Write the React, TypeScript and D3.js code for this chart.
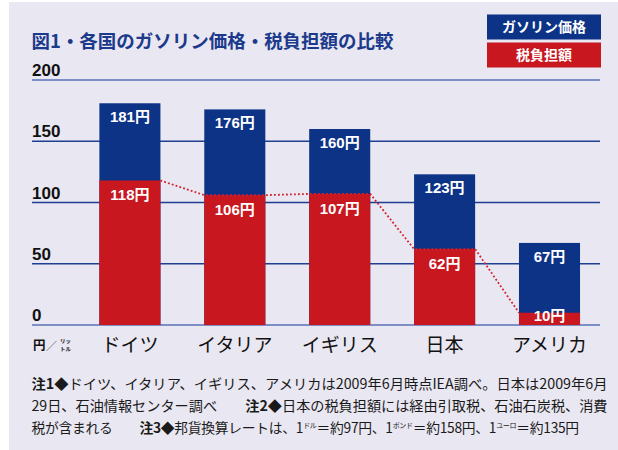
import React from "react";
import * as d3 from "d3";

const countries = ["ドイツ", "イタリア", "イギリス", "日本", "アメリカ"];
const gasolinePrice = [181, 176, 160, 123, 67];
const taxAmount = [118, 106, 107, 62, 10];
const yTicks = [0, 50, 100, 150, 200];
const legendLabels = ["ガソリン価格", "税負担額"];

const BLUE = "#0d3387";
const RED = "#c8171f";
const BG = "#e9e7f1";
const NUM_FONT = "'Liberation Sans', 'Noto Sans CJK JP', sans-serif";
const JP_FONT = "'Noto Sans CJK JP', 'Noto Sans', sans-serif";
const SP = "\u3000";

export default function App() {
  const W = 618;
  const H = 450;
  const n = countries.length;
  const step = 104.9;
  const c0 = 129.9;
  const x = d3
    .scaleBand<string>()
    .domain(countries)
    .range([c0 - step / 2, c0 + (n - 1) * step + step / 2])
    .paddingInner(0.418)
    .paddingOuter(0.209);
  const y = d3.scaleLinear().domain([0, 200]).range([325, 80]);
  const bw = x.bandwidth();

  const linePts: [number, number][] = [];
  countries.forEach((c, i) => {
    const x0 = x(c)!;
    const yt = y(taxAmount[i]);
    if (i > 0) linePts.push([x0, yt]);
    if (i < n - 1) linePts.push([x0 + bw, yt]);
  });
  const dotted = d3.line()(linePts) || "";

  const small = 7;

  return (
    <svg
      width={W}
      height={H}
      style={{ position: "absolute", left: 0, top: 0, display: "block" }}
    >
      <rect x={0} y={0} width={W} height={H} fill="#ffffff" />
      <rect x={9} y={2} width={W - 9} height={H - 2} fill={BG} />

      {/* title */}
      <text
        x={31.5}
        y={48}
        fontFamily={JP_FONT}
        fontWeight={700}
        fontSize={18.5}
        fill="#1b3a8c"
        textLength={362}
        lengthAdjust="spacingAndGlyphs"
      >
        図1・各国のガソリン価格・税負担額の比較
      </text>

      {/* legend */}
      {legendLabels.map((l, i) => (
        <g key={l}>
          <rect
            x={487}
            y={14.5 + i * 28}
            width={114}
            height={25}
            fill={i === 0 ? BLUE : RED}
          />
          <text
            x={544}
            y={32 + i * 28}
            textAnchor="middle"
            fontFamily={JP_FONT}
            fontWeight={700}
            fontSize={14}
            fill="#ffffff"
          >
            {l}
          </text>
        </g>
      ))}

      {/* gridlines & tick labels */}
      {yTicks.map((t) => (
        <g key={t}>
          <line
            x1={32}
            x2={600}
            y1={y(t)}
            y2={y(t)}
            stroke={t === 0 || t === 200 ? "#5a72b8" : "#1f3f92"}
            strokeWidth={1.5}
          />
          <text
            x={32}
            y={y(t) - 4}
            fontFamily={NUM_FONT}
            fontWeight={700}
            fontSize={17}
            fill="#111"
          >
            {t}
          </text>
        </g>
      ))}

      {/* bars */}
      {countries.map((c, i) => {
        const x0 = x(c)!;
        const yb = y(gasolinePrice[i]);
        const yr = y(taxAmount[i]);
        const y0 = y(0);
        const redLabelY = Math.min(yr + 20, y0 - 4);
        return (
          <g key={c}>
            <rect x={x0} y={yb} width={bw} height={y0 - yb} fill={BLUE} />
            <rect x={x0} y={yr} width={bw} height={y0 - yr} fill={RED} />
            <text
              x={x0 + bw / 2}
              y={yb + 19}
              textAnchor="middle"
              fontFamily={NUM_FONT}
              fontWeight={700}
              fontSize={15}
              fill="#ffffff"
            >
              {gasolinePrice[i]}円
            </text>
            <text
              x={x0 + bw / 2}
              y={redLabelY}
              textAnchor="middle"
              fontFamily={NUM_FONT}
              fontWeight={700}
              fontSize={15}
              fill="#ffffff"
            >
              {taxAmount[i]}円
            </text>
          </g>
        );
      })}

      {/* dotted connector */}
      <path
        d={dotted}
        fill="none"
        stroke="#d4202b"
        strokeWidth={1.8}
        strokeDasharray="1.8,2.2"
      />

      {/* category labels */}
      {countries.map((c) => (
        <text
          key={c}
          x={x(c)! + bw / 2}
          y={352}
          textAnchor="middle"
          fontFamily={JP_FONT}
          fontSize={19}
          fill="#111"
        >
          {c}
        </text>
      ))}

      {/* unit label */}
      <text x={33} y={350} fontFamily={JP_FONT} fontWeight={700} fontSize={12.5} fill="#111">
        円
      </text>
      <text x={46} y={350} fontFamily={JP_FONT} fontSize={11} fill="#444">
        ／
      </text>
      <text x={60} y={343} fontFamily={JP_FONT} fontWeight={700} fontSize={5.5} fill="#111">
        リッ
      </text>
      <text x={60} y={351} fontFamily={JP_FONT} fontWeight={700} fontSize={5.5} fill="#111">
        トル
      </text>

      {/* notes */}
      <g fontFamily={JP_FONT} fontSize={14} fill="#1a1a1a">
        <text x={31.5} y={389} textLength={576} lengthAdjust="spacingAndGlyphs">
          <tspan fontWeight={700}>注1◆</tspan>
          {"ドイツ、イタリア、イギリス、アメリカは2009年6月時点IEA調べ。日本は2009年6月"}
        </text>
        <text x={31.5} y={411} textLength={576} lengthAdjust="spacingAndGlyphs">
          {"29日、石油情報センター調べ" + SP + SP}
          <tspan fontWeight={700}>注2◆</tspan>
          {"日本の税負担額には経由引取税、石油石炭税、消費"}
        </text>
        <text x={31.5} y={433} fontSize={13.8} letterSpacing={-0.3}>
          {"税が含まれる" + SP + SP}
          <tspan fontWeight={700}>注3◆</tspan>
          {"邦貨換算レートは、1"}
          <tspan fontSize={small} dy={-5}>ドル</tspan>
          <tspan dy={5}>＝約97円、1</tspan>
          <tspan fontSize={small} dy={-5}>ポンド</tspan>
          <tspan dy={5}>＝約158円、1</tspan>
          <tspan fontSize={small} dy={-5}>ユーロ</tspan>
          <tspan dy={5}>＝約135円</tspan>
        </text>
      </g>
    </svg>
  );
}
